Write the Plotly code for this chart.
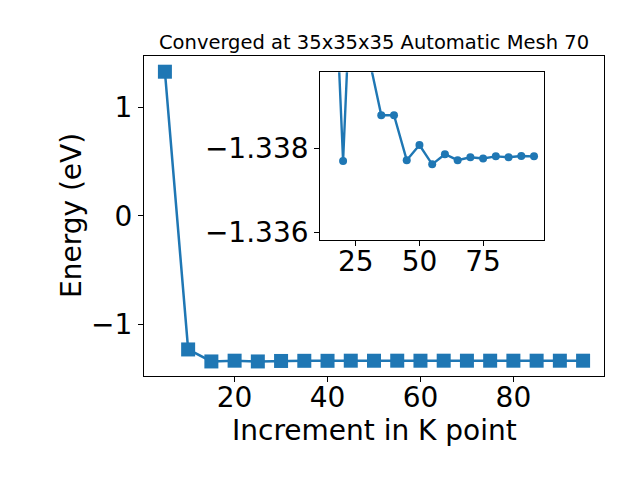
import plotly.graph_objects as go

kpoints = [5, 10, 15, 20, 25, 30, 35, 40, 45, 50, 55, 60, 65, 70, 75, 80, 85, 90, 95]
energy = [1.329, -1.234, -1.3447, -1.3377, -1.3447, -1.3402, -1.33879, -1.33879,
          -1.33772, -1.33808, -1.33762, -1.33786, -1.33772, -1.33779, -1.33776,
          -1.33781, -1.33779, -1.33782, -1.33781]
inset_k = kpoints[2:]
inset_e = energy[2:]

main_xticks = [20, 40, 60, 80]
main_yticks = [-1, 0, 1]
inset_xticks = [25, 50, 75]
inset_yticks = [-1.338, -1.336]

title_text = "Converged at 35x35x35 Automatic Mesh 70"
xlabel = "Increment in K point"
ylabel = "Energy (eV)"

color = "#1f77b4"
font = "DejaVu Sans"

fig = go.Figure()
fig.add_trace(go.Scatter(x=kpoints, y=energy, mode="lines+markers",
                         line=dict(color=color, width=2.5),
                         marker=dict(symbol="square", size=14, color=color),
                         xaxis="x", yaxis="y", showlegend=False))
fig.add_trace(go.Scatter(x=inset_k, y=inset_e, mode="lines+markers",
                         line=dict(color=color, width=2.4),
                         marker=dict(symbol="circle", size=8, color=color),
                         xaxis="x2", yaxis="y2", showlegend=False, cliponaxis=True))

axcommon = dict(showline=True, mirror=True, linecolor="black", linewidth=1.1,
                ticks="outside", ticklen=5, tickwidth=1.1, tickcolor="black",
                showgrid=False, zeroline=False, automargin=False,
                tickfont=dict(family=font, size=28, color="black"))

fig.update_layout(
    width=624, height=464,
    margin=dict(l=136, r=28, t=48, b=96, autoexpand=False),
    paper_bgcolor="white", plot_bgcolor="white",
    font=dict(family=font, color="black"),
    xaxis=dict(domain=[0, 1], range=[0.5, 99.5], tickvals=main_xticks, anchor="y",
               ticklabelstandoff=-9, **axcommon),
    yaxis=dict(domain=[0, 1], range=[-1.479, 1.474], tickvals=main_yticks, anchor="x", **axcommon),
    xaxis2=dict(domain=[0.383, 0.870], range=[11, 99], tickvals=inset_xticks, anchor="y2",
                ticklabelstandoff=-9, **axcommon),
    yaxis2=dict(domain=[0.425, 0.949], range=[-1.33582, -1.33981], tickvals=inset_yticks,
                tickformat=".3f", anchor="x2", **axcommon),
    shapes=[dict(type="rect", xref="paper", yref="paper", x0=0.383, x1=0.870, y0=0.425, y1=0.949,
                 fillcolor="white", line=dict(width=0), layer="below")],
    annotations=[
        dict(text=title_text, xref="paper", yref="paper", x=0.5, y=1, xanchor="center",
             yanchor="middle", yshift=14, showarrow=False, font=dict(family=font, size=19.5, color="black")),
        dict(text=xlabel, xref="paper", yref="paper", x=0.5, y=0, xanchor="center",
             yanchor="middle", yshift=-54, showarrow=False, font=dict(family=font, size=28, color="black")),
        dict(text=ylabel, xref="paper", yref="paper", x=0, y=0.5, xanchor="center",
             yanchor="middle", xshift=-73, textangle=-90, showarrow=False,
             font=dict(family=font, size=28, color="black")),
    ],
)

fig.write_html("out.html")
